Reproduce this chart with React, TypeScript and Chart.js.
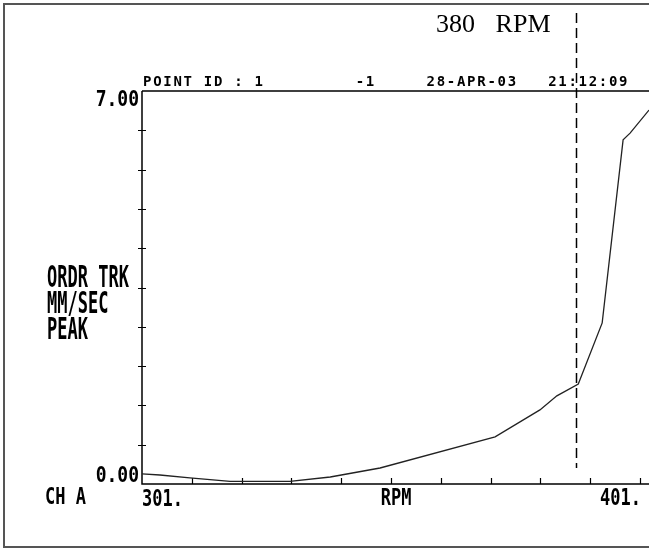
import React, { useEffect, useRef } from "react";
import { Chart, registerables } from "chart.js";

Chart.register(...registerables);

// ---- data ----
const rpmValues = [301, 304.6, 310.6, 318.7, 330.7, 338.8, 348.8, 371.9, 380.9, 384.3, 388.6, 393.4, 397.6, 399.0, 402.8];
const amplitudeValues = [0.18, 0.16, 0.11, 0.045, 0.045, 0.125, 0.285, 0.84, 1.32, 1.57, 1.78, 2.87, 6.13, 6.25, 6.66];

const xMin = 301;
const xMax = 402.8;
const yMin = 0;
const yMax = 7;

const xTickValues = [301, 311, 321, 331, 341, 351, 361, 371, 381, 391, 401];
const yTickValues = [0, 0.7, 1.4, 2.1, 2.8, 3.5, 4.2, 4.9, 5.6, 6.3, 7];

const xEdgeLabels = ["301.", "401."];
const xAxisTitle = "RPM";
const yEdgeLabels = ["0.00", "7.00"];
const yAxisTitle = ["ORDR TRK", "MM/SEC", "PEAK"];
const channelLabel = "CH A";
const headerText = "POINT ID : 1         -1     28-APR-03   21:12:09";
const markerRpm = 388.1;
const markerLabel = "380 RPM";

const MONO = '"DejaVu Sans Mono", "Liberation Mono", monospace';

function tallText(ctx: CanvasRenderingContext2D, text: string, x: number, y: number, sy: number, align: CanvasTextAlign) {
  ctx.save();
  ctx.translate(x, y);
  ctx.scale(1, sy);
  ctx.textAlign = align;
  ctx.textBaseline = "alphabetic";
  ctx.fillText(text, 0, 0);
  ctx.restore();
}

const decorPlugin = {
  id: "decor",
  beforeDatasetsDraw(chart: any) {
    const { ctx, chartArea } = chart;
    const xs = chart.scales.x;
    const ys = chart.scales.y;
    const { left, right, top, bottom } = chartArea;
    ctx.save();
    // outer frame
    ctx.strokeStyle = "#555";
    ctx.lineWidth = 2;
    ctx.strokeRect(4, 4, 680, 543);

    // axes
    ctx.strokeStyle = "#000";
    ctx.lineWidth = 1.5;
    ctx.beginPath();
    ctx.moveTo(left, top);
    ctx.lineTo(right + 2, top);
    ctx.moveTo(left, top);
    ctx.lineTo(left, bottom);
    ctx.lineTo(right + 2, bottom);
    ctx.stroke();

    // x ticks (inside, upward)
    ctx.lineWidth = 1.2;
    ctx.beginPath();
    xTickValues.forEach((v, i) => {
      if (i === 0) return;
      const px = Math.round(xs.getPixelForValue(v)) + 0.5;
      ctx.moveTo(px, bottom);
      ctx.lineTo(px, bottom - 6);
    });
    // y ticks (crossing)
    yTickValues.forEach((v, i) => {
      if (i === 0 || i === yTickValues.length - 1) return;
      const py = Math.round(ys.getPixelForValue(v)) + 0.5;
      ctx.moveTo(left - 4, py);
      ctx.lineTo(left + 4, py);
    });
    ctx.stroke();
    ctx.restore();
  },
  afterDraw(chart: any) {
    const { ctx, chartArea } = chart;
    const xs = chart.scales.x;
    const ys = chart.scales.y;
    const { left, top, bottom } = chartArea;
    ctx.save();

    // dashed marker
    const mx = Math.round(xs.getPixelForValue(markerRpm)) + 0.5;
    ctx.strokeStyle = "#000";
    ctx.lineWidth = 1.5;
    ctx.setLineDash([10, 5]);
    ctx.beginPath();
    ctx.moveTo(mx, 13);
    ctx.lineTo(mx, 468);
    ctx.stroke();
    ctx.setLineDash([]);

    // marker label (serif)
    ctx.fillStyle = "#000";
    ctx.font = '26px "Liberation Serif", "Times New Roman", serif';
    (ctx as any).wordSpacing = "14px";
    ctx.textAlign = "right";
    ctx.textBaseline = "alphabetic";
    ctx.fillText(markerLabel, mx - 26, 32);
    (ctx as any).wordSpacing = "0px";

    // header
    ctx.font = `bold 14px ${MONO}`;
    (ctx as any).letterSpacing = "1.7px";
    ctx.textAlign = "left";
    ctx.fillText(headerText, left + 1, top - 5);
    (ctx as any).letterSpacing = "0px";

    // y edge labels
    ctx.font = `bold 18px ${MONO}`;
    tallText(ctx, yEdgeLabels[1], left - 3, ys.getPixelForValue(yTickValues[yTickValues.length - 1]) + 15, 1.15, "right");
    tallText(ctx, yEdgeLabels[0], left - 3, ys.getPixelForValue(yTickValues[0]) - 2, 1.15, "right");

    // y axis title
    ctx.font = `bold 17px ${MONO}`;
    const titleBase = [287, 313, 339];
    yAxisTitle.forEach((t, i) => tallText(ctx, t, 47, titleBase[i], 1.75, "left"));

    // channel + x labels
    tallText(ctx, channelLabel, 45, bottom + 20, 1.3, "left");
    tallText(ctx, xEdgeLabels[0], xs.getPixelForValue(xTickValues[0]), bottom + 22, 1.35, "left");
    tallText(ctx, xAxisTitle, xs.getPixelForValue((xTickValues[0] + xTickValues[xTickValues.length - 1]) / 2) + 5, bottom + 21, 1.35, "center");
    tallText(ctx, xEdgeLabels[1], xs.getPixelForValue(xTickValues[xTickValues.length - 1]) + 1, bottom + 21, 1.35, "right");

    ctx.restore();
  },
};

export default function App() {
  const canvasRef = useRef<HTMLCanvasElement | null>(null);

  useEffect(() => {
    const canvas = canvasRef.current;
    if (!canvas) return;
    const chart = new Chart(canvas, {
      type: "line",
      data: {
        datasets: [
          {
            data: rpmValues.map((r, i) => ({ x: r, y: amplitudeValues[i] })),
            borderColor: "#222",
            borderWidth: 1.3,
            pointRadius: 0,
            tension: 0,
            fill: false,
            clip: 4,
          } as any,
        ],
      },
      options: {
        responsive: false,
        animation: false,
        devicePixelRatio: 1,
        layout: { padding: { left: 142, top: 91, right: 0, bottom: 68 } },
        scales: {
          x: { type: "linear", display: false, min: xMin, max: xMax },
          y: { type: "linear", display: false, min: yMin, max: yMax },
        },
        plugins: {
          legend: { display: false },
          tooltip: { enabled: false },
        },
      },
      plugins: [decorPlugin],
    });
    return () => chart.destroy();
  }, []);

  return (
    <div style={{ position: "absolute", left: 0, top: 0, width: 649, height: 552, background: "#fff" }}>
      <canvas ref={canvasRef} width={649} height={552} style={{ display: "block", width: 649, height: 552 }} />
    </div>
  );
}
